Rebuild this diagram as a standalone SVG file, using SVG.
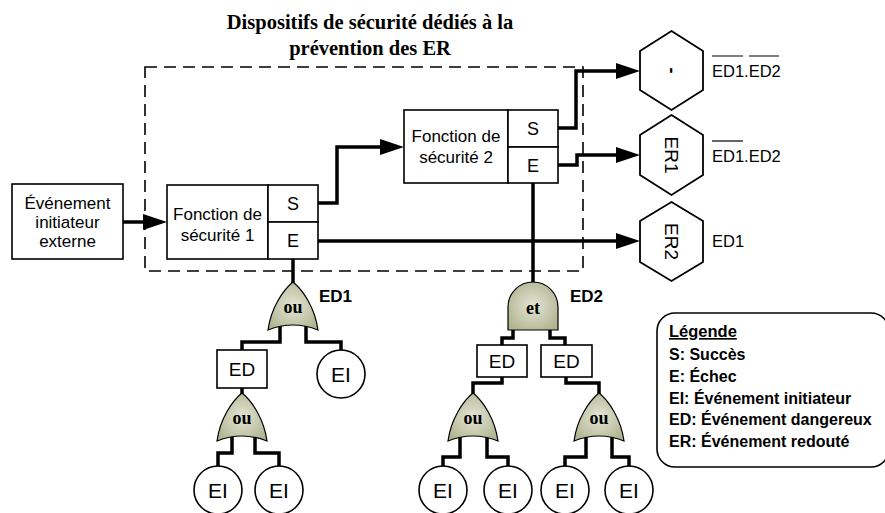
<svg xmlns="http://www.w3.org/2000/svg" width="885" height="513" viewBox="0 0 885 513">
<style>
.box{fill:#fff;stroke:#000;stroke-width:1.6}
.hex{fill:#fff;stroke:#000;stroke-width:1.8}
.gate{fill:url(#gg);stroke:#000;stroke-width:1.2}
.wire{fill:none;stroke:#000;stroke-width:3.5;stroke-linejoin:miter}
.dash{fill:none;stroke:#000;stroke-width:1.6;stroke-dasharray:12,7}
.t{font-family:"Liberation Sans",Arial,sans-serif;fill:#000;text-anchor:middle}
.tl{font-family:"Liberation Sans",Arial,sans-serif;fill:#000}
.tb{font-family:"Liberation Sans",Arial,sans-serif;font-weight:bold;fill:#000}
.ts{font-family:"Liberation Serif","Times New Roman",serif;font-weight:bold;fill:#000;text-anchor:middle}
</style>
<defs>
<radialGradient id="gg" cx="0.5" cy="0.5" r="0.6">
<stop offset="0" stop-color="#e4e6d6"/>
<stop offset="1" stop-color="#b0b48f"/>
</radialGradient>
<marker id="arr" markerUnits="userSpaceOnUse" markerWidth="24" markerHeight="16" refX="4" refY="8" orient="auto">
<path d="M0,0 L24,8 L0,16 Z" fill="#000"/>
</marker>
</defs>

<rect class="dash" x="145" y="67" width="438" height="204"/>
<text class="ts" x="370" y="29" font-size="20.5">Dispositifs de sécurité dédiés à la</text>
<text class="ts" x="370" y="55" font-size="20.5">prévention des ER</text>

<g id="connectors">
<path class="wire" d="M123,222 H147" marker-end="url(#arr)"/>
<path class="wire" d="M318,203 H337 V147 H384" marker-end="url(#arr)"/>
<path class="wire" d="M558,128 H576 V71 H620" marker-end="url(#arr)"/>
<path class="wire" d="M558,165 H577 V155 H620" marker-end="url(#arr)"/>
<path class="wire" d="M318,241 H620" marker-end="url(#arr)"/>
<path class="wire" d="M293,259 V284"/>
<path class="wire" d="M533,183 V284"/>
<path class="wire" d="M280,324 V342 H242 V350"/>
<path class="wire" d="M306,324 V342 H341 V350"/>
<path class="wire" d="M242,388 V395"/>
<path class="wire" d="M232,436 V453 H218 V466"/>
<path class="wire" d="M255,436 V453 H279 V466"/>
<path class="wire" d="M513,329 V338 H502 V345"/>
<path class="wire" d="M550,329 V338 H565 V345"/>
<path class="wire" d="M502,377 V383 H473 V395"/>
<path class="wire" d="M566,377 V383 H599 V395"/>
<path class="wire" d="M460,436 V457 H443 V466"/>
<path class="wire" d="M487,436 V457 H508 V466"/>
<path class="wire" d="M586,436 V457 H565 V466"/>
<path class="wire" d="M612,436 V457 H629 V466"/>
</g>

<g id="evenement">
<rect class="box" x="12" y="184" width="111" height="75"/>
<text class="t" x="67.5" y="209" font-size="17">Événement</text>
<text class="t" x="67.5" y="228" font-size="17">initiateur</text>
<text class="t" x="67.5" y="247" font-size="17">externe</text>
</g>

<g id="fonction1">
<rect class="box" x="167" y="185" width="101" height="74"/>
<rect class="box" x="268" y="185" width="50" height="37"/>
<rect class="box" x="268" y="222" width="50" height="37"/>
<text class="t" x="217.5" y="220" font-size="17">Fonction de</text>
<text class="t" x="217.5" y="241" font-size="17">sécurité 1</text>
<text class="t" x="293" y="210" font-size="18">S</text>
<text class="t" x="293" y="247" font-size="18">E</text>
</g>

<g id="fonction2">
<rect class="box" x="404" y="110" width="104" height="73"/>
<rect class="box" x="508" y="110" width="50" height="37"/>
<rect class="box" x="508" y="147" width="50" height="36"/>
<text class="t" x="456" y="142" font-size="17">Fonction de</text>
<text class="t" x="456" y="163" font-size="17">sécurité 2</text>
<text class="t" x="533" y="135" font-size="18">S</text>
<text class="t" x="533" y="172" font-size="18">E</text>
</g>

<g id="er0">
<polygon class="hex" points="671.5,31 703,51 703,90 671.5,110 640,90 640,51"/>
<text class="t" font-size="18" font-weight="bold" transform="translate(671.5,70.5) rotate(90)" y="6">-</text>
<text class="tl" x="712" y="77" font-size="16.5">ED1.ED2</text>
<path d="M712,56 H743 M749,56 H779" stroke="#000" stroke-width="1.2"/>
</g>

<g id="er1">
<polygon class="hex" points="671.5,115 703,135 703,175 671.5,195 640,175 640,135"/>
<text class="t" font-size="19" transform="translate(671.5,155) rotate(90)" y="7">ER1</text>
<text class="tl" x="712" y="162" font-size="16.5">ED1.ED2</text>
<path d="M712,141 H743" stroke="#000" stroke-width="1.2"/>
</g>

<g id="er2">
<polygon class="hex" points="671.5,202 703,221 703,262 671.5,281 640,262 640,221"/>
<text class="t" font-size="19" transform="translate(671.5,241.5) rotate(90)" y="7">ER2</text>
<text class="tl" x="712" y="247" font-size="16.5">ED1</text>
</g>

<g id="gate-ed1">
<path class="gate" d="M293,282 C303,290 315,308 318,330 Q293,320 268,330 C271,308 283,290 293,282 Z"/>
<text class="ts" x="293" y="313" font-size="18">ou</text>
<text class="tb" x="319" y="302" font-size="17">ED1</text>
</g>

<g id="ed-left">
<rect class="box" x="217" y="350" width="50" height="38"/>
<text class="t" x="242" y="376" font-size="19">ED</text>
</g>

<g id="ei-1">
<circle class="box" cx="341" cy="374" r="24"/>
<text class="t" x="341" y="382" font-size="21">EI</text>
</g>

<g id="gate-ou-1">
<path class="gate" d="M242,393 C252,401 264,419 267,441 Q242,431 217,441 C220,419 232,401 242,393 Z"/>
<text class="ts" x="242" y="424" font-size="18">ou</text>
</g>

<g id="ei-2">
<circle class="box" cx="218" cy="490" r="24"/>
<text class="t" x="218" y="498" font-size="21">EI</text>
</g>
<g id="ei-3">
<circle class="box" cx="279" cy="490" r="24"/>
<text class="t" x="279" y="498" font-size="21">EI</text>
</g>

<g id="gate-ed2">
<path class="gate" d="M508,330 V307 A25,25 0 0 1 558,307 V330 Z"/>
<text class="ts" x="533" y="314" font-size="18">et</text>
<text class="tb" x="570" y="302" font-size="17">ED2</text>
</g>

<g id="ed-2a">
<rect class="box" x="477" y="345" width="50" height="32"/>
<text class="t" x="502" y="368" font-size="19">ED</text>
</g>
<g id="ed-2b">
<rect class="box" x="541" y="345" width="51" height="32"/>
<text class="t" x="566.5" y="368" font-size="19">ED</text>
</g>

<g id="gate-ou-2">
<path class="gate" d="M473,393 C483,401 495,419 498,441 Q473,431 448,441 C451,419 463,401 473,393 Z"/>
<text class="ts" x="473" y="424" font-size="18">ou</text>
</g>
<g id="gate-ou-3">
<path class="gate" d="M599,393 C609,401 621,419 624,441 Q599,431 574,441 C577,419 589,401 599,393 Z"/>
<text class="ts" x="599" y="424" font-size="18">ou</text>
</g>

<g id="ei-4">
<circle class="box" cx="443" cy="490" r="24"/>
<text class="t" x="443" y="498" font-size="21">EI</text>
</g>
<g id="ei-5">
<circle class="box" cx="508" cy="490" r="24"/>
<text class="t" x="508" y="498" font-size="21">EI</text>
</g>
<g id="ei-6">
<circle class="box" cx="565" cy="490" r="24"/>
<text class="t" x="565" y="498" font-size="21">EI</text>
</g>
<g id="ei-7">
<circle class="box" cx="629" cy="490" r="24"/>
<text class="t" x="629" y="498" font-size="21">EI</text>
</g>

<g id="legende">
<rect x="657" y="313" width="232" height="154" rx="18" ry="18" fill="#fff" stroke="#000" stroke-width="1.6"/>
<text class="tb" x="669" y="337" font-size="16.5" text-decoration="underline">Légende</text>
<text class="tb" x="669" y="360" font-size="16">S: Succès</text>
<text class="tb" x="669" y="382" font-size="16">E: Échec</text>
<text class="tb" x="669" y="404" font-size="16">EI: Événement initiateur</text>
<text class="tb" x="669" y="425" font-size="16">ED: Événement dangereux</text>
<text class="tb" x="669" y="447" font-size="16">ER: Événement redouté</text>
</g>
</svg>
